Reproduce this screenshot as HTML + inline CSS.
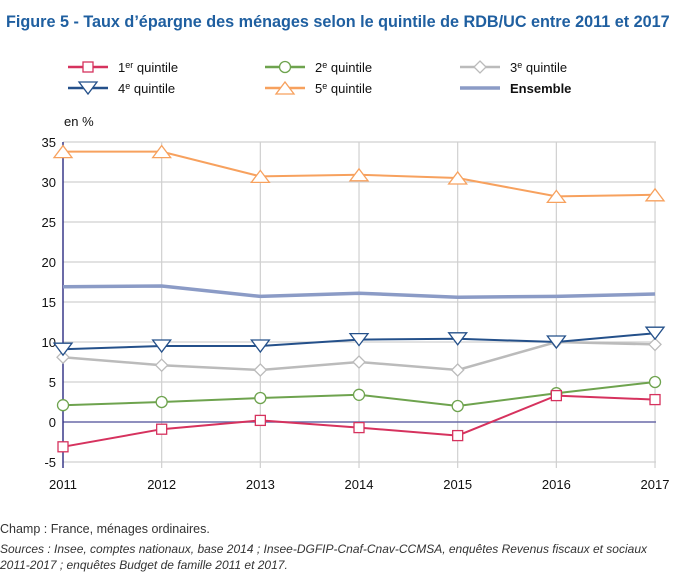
<!DOCTYPE html>
<html><head><meta charset="utf-8"><style>
body{margin:0;width:698px;height:572px;background:#fff;font-family:"Liberation Sans",sans-serif;overflow:hidden}
</style></head><body>
<svg id="s" width="698" height="572" xmlns="http://www.w3.org/2000/svg" font-family="Liberation Sans, sans-serif">
<text x="6" y="27" font-size="16.2" font-weight="bold" fill="#1f5fa0">Figure 5 - Taux d’épargne des ménages selon le quintile de RDB/UC entre 2011 et 2017</text>
<g font-size="13" fill="#111">
<line x1="68" y1="67" x2="108" y2="67" stroke="#d6325e" stroke-width="2.5"/><rect x="83" y="62" width="10" height="10" fill="#fff" stroke="#d6325e" stroke-width="1.3"/>
<text x="118" y="72">1<tspan font-size="9" dy="-4">er</tspan><tspan dy="4"> quintile</tspan></text>
<line x1="265" y1="67" x2="305" y2="67" stroke="#6ea34e" stroke-width="2.5"/><circle cx="285" cy="67" r="5.5" fill="#fff" stroke="#6ea34e" stroke-width="1.3"/>
<text x="315" y="72">2<tspan font-size="9" dy="-4">e</tspan><tspan dy="4"> quintile</tspan></text>
<line x1="460" y1="67" x2="500" y2="67" stroke="#bbb" stroke-width="2.5"/><path d="M480 61 L486 67 L480 73 L474 67Z" fill="#fff" stroke="#bbb" stroke-width="1.3"/>
<text x="510" y="72">3<tspan font-size="9" dy="-4">e</tspan><tspan dy="4"> quintile</tspan></text>
<line x1="68" y1="88" x2="108" y2="88" stroke="#24508a" stroke-width="2.5"/><path d="M79 82 L97 82 L88 94Z" fill="#fff" stroke="#24508a" stroke-width="1.3"/>
<text x="118" y="93">4<tspan font-size="9" dy="-4">e</tspan><tspan dy="4"> quintile</tspan></text>
<line x1="265" y1="88" x2="305" y2="88" stroke="#f7a15e" stroke-width="2.5"/><path d="M276 94 L294 94 L285 82Z" fill="#fff" stroke="#f7a15e" stroke-width="1.3"/>
<text x="315" y="93">5<tspan font-size="9" dy="-4">e</tspan><tspan dy="4"> quintile</tspan></text>
<line x1="460" y1="88" x2="500" y2="88" stroke="#8b9bc6" stroke-width="3.5"/>
<text x="510" y="93" font-weight="bold">Ensemble</text>
<text x="64" y="126">en %</text>
</g>
<g id="g"></g>
<text x="0" y="533" font-size="12.5" fill="#333">Champ : France, ménages ordinaires.</text>
<text x="0" y="553" font-size="12" font-style="italic" fill="#333">Sources : Insee, comptes nationaux, base 2014 ; Insee-DGFIP-Cnaf-Cnav-CCMSA, enquêtes Revenus fiscaux et sociaux</text>
<text x="0" y="569" font-size="12" font-style="italic" fill="#333">2011-2017 ; enquêtes Budget de famille 2011 et 2017.</text>
</svg>
<script>
var g=document.getElementById('g'),h='';
function X(i){return 63+i*98.67}function Y(v){return 422-v*8}
for(var v=-5;v<=35;v+=5){if(v!=0)h+='<line x1="63" x2="656" y1="'+Y(v)+'" y2="'+Y(v)+'" stroke="#d0d0d0" stroke-width="1.2"/>';h+='<text x="56" y="'+(Y(v)+5)+'" font-size="13" text-anchor="end" fill="#111">'+v+'</text>';}
for(var i=0;i<7;i++){if(i>0)h+='<line x1="'+X(i)+'" x2="'+X(i)+'" y1="142" y2="468" stroke="#d0d0d0" stroke-width="1.2"/>';h+='<text x="'+X(i)+'" y="489" font-size="13" text-anchor="middle" fill="#111">'+(2011+i)+'</text>';}
h+='<line x1="63" x2="656" y1="422" y2="422" stroke="#6a6aa8" stroke-width="1.5"/><line x1="63" x2="63" y1="142" y2="468" stroke="#3a3a8a" stroke-width="1.5"/>';
var S=[[[16.9,17.0,15.7,16.1,15.6,15.7,16.0],'#8b9bc6',3.5,''],
[[8.1,7.1,6.5,7.5,6.5,10.0,9.7],'#bbb',2.5,'d'],
[[2.1,2.5,3.0,3.4,2.0,3.6,5.0],'#6ea34e',2,'c'],
[[-3.1,-0.9,0.2,-0.7,-1.7,3.3,2.8],'#d6325e',2,'s'],
[[9.1,9.5,9.5,10.3,10.4,10.0,11.1],'#24508a',2,'v'],
[[33.8,33.8,30.7,30.9,30.5,28.2,28.4],'#f7a15e',2,'t']];
S.forEach(function(s){var p=s[0].map(function(v,i){return X(i)+','+Y(v)}).join(' ');
h+='<polyline points="'+p+'" fill="none" stroke="'+s[1]+'" stroke-width="'+s[2]+'"/>';
s[0].forEach(function(v,i){var x=X(i),y=Y(v),c=s[1],a=' fill="#fff" stroke="'+c+'" stroke-width="1.3"';
if(s[3]=='s')h+='<rect x="'+(x-5)+'" y="'+(y-5)+'" width="10" height="10"'+a+'/>';
if(s[3]=='c')h+='<circle cx="'+x+'" cy="'+y+'" r="5.5"'+a+'/>';
if(s[3]=='d')h+='<path d="M'+x+' '+(y-6)+' L'+(x+6)+' '+y+' L'+x+' '+(y+6)+' L'+(x-6)+' '+y+'Z"'+a+'/>';
if(s[3]=='v')h+='<path d="M'+(x-9)+' '+(y-6)+' L'+(x+9)+' '+(y-6)+' L'+x+' '+(y+6)+'Z"'+a+'/>';
if(s[3]=='t')h+='<path d="M'+(x-9)+' '+(y+6)+' L'+(x+9)+' '+(y+6)+' L'+x+' '+(y-6)+'Z"'+a+'/>';});});
g.innerHTML=h;
</script>
</body></html>
